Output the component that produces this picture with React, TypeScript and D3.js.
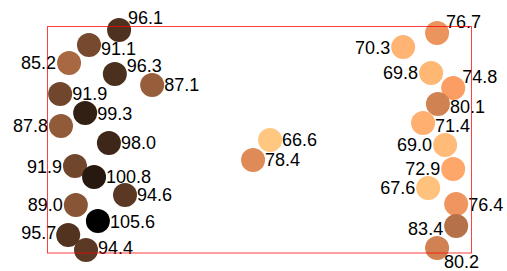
import * as d3 from 'd3';
import { useEffect, useRef } from 'react';

// values shown on the circles
const values = [
  96.1, 91.1, 85.2, 96.3, 87.1, 91.9, 99.3, 87.8, 98.0, 91.9, 100.8, 94.6, 89.0, 105.6, 95.7,
  94.4, 66.6, 78.4, 76.7, 70.3, 69.8, 74.8, 80.1, 71.4, 69.0, 72.9, 67.6, 76.4, 83.4, 80.2,
];
// circle positions, in percent of the frame
const posX = [
  17.0, 9.9, 5.2, 16.0, 24.8, 3.1, 9.0, 3.3, 14.6, 6.6, 11.1, 18.4, 6.8, 12.0, 5.0,
  9.2, 52.6, 48.6, 92.0, 84.0, 90.6, 95.8, 92.2, 88.7, 93.9, 95.8, 89.9, 96.5, 96.5, 92.0,
];
const posY = [
  1.5, 8.2, 16.1, 21.0, 25.8, 29.8, 38.2, 43.9, 51.4, 61.6, 66.4, 74.4, 78.8, 85.9, 92.1,
  98.7, 50.1, 58.9, 2.9, 9.1, 20.5, 27.2, 34.2, 42.6, 52.3, 62.9, 71.3, 78.4, 88.1, 97.8,
];
// which side of the circle each label sits on
const labelSide = [
  'ne', 'ese', 'w', 'nee', 'e', 'e', 'e', 'w', 'e', 'w', 'e', 'e', 'w', 'e', 'wnw',
  'ene', 'e', 'e', 'ne', 'w', 'w', 'ne', 'ese', 'ese', 'w', 'w', 'w', 'e', 'wsw', 'se',
];

const W = 507;
const H = 271;
const R = 12;

// matplotlib "copper" colormap
function copper(t: number) {
  return d3.rgb(Math.min(1, 1.25 * t) * 255, 0.7812 * t * 255, 0.4975 * t * 255).formatHex();
}

const offsets: Record<string, { dx: number; dy: number; anchor: string }> = {
  e: { dx: 12, dy: 0, anchor: 'start' },
  ese: { dx: 12, dy: 3, anchor: 'start' },
  ene: { dx: 12, dy: -3, anchor: 'start' },
  w: { dx: -13, dy: 0, anchor: 'end' },
  wnw: { dx: -12, dy: -3, anchor: 'end' },
  wsw: { dx: -13, dy: 2, anchor: 'end' },
  ne: { dx: 9, dy: -12, anchor: 'start' },
  nee: { dx: 12, dy: -9, anchor: 'start' },
  se: { dx: 7, dy: 14, anchor: 'start' },
};

export default function App() {
  const svgRef = useRef<SVGSVGElement>(null);

  useEffect(() => {
    const svgEl = svgRef.current;
    if (!svgEl) return;

    const items = values.map((v, i) => ({
      value: v,
      x: posX[i],
      y: posY[i],
      side: labelSide[i],
    }));

    const margin = { top: 26.5, right: 36, bottom: 18, left: 47 };
    const x = d3.scaleLinear().domain([0, 100]).range([margin.left, W - margin.right]);
    const y = d3.scaleLinear().domain([0, 100]).range([margin.top, H - margin.bottom]);
    const color = d3
      .scaleLinear<number>()
      .domain([d3.max(values)!, d3.min(values)!])
      .range([0, 1]);

    const svg = d3.select(svgEl);
    svg.selectAll('*').remove();

    svg
      .append('g')
      .selectAll('circle')
      .data(items)
      .join('circle')
      .attr('cx', (d) => x(d.x))
      .attr('cy', (d) => y(d.y))
      .attr('r', R)
      .attr('fill', (d) => copper(color(d.value)));

    svg
      .append('g')
      .selectAll('text')
      .data(items)
      .join('text')
      .attr('x', (d) => x(d.x) + offsets[d.side].dx)
      .attr('y', (d) => y(d.y) + offsets[d.side].dy)
      .attr('dy', '0.36em')
      .attr('text-anchor', (d) => offsets[d.side].anchor)
      .attr('font-family', 'Liberation Sans, Arial, sans-serif')
      .attr('font-size', 18)
      .attr('fill', '#000')
      .text((d) => d.value.toFixed(1));

    svg
      .append('rect')
      .attr('x', x(0) + 0.5)
      .attr('y', y(0))
      .attr('width', x(100) - x(0))
      .attr('height', y(100) - y(0))
      .attr('fill', 'none')
      .attr('stroke', 'red')
      .attr('stroke-opacity', 0.75)
      .attr('stroke-width', 1);
  }, []);

  return (
    <svg
      ref={svgRef}
      width={W}
      height={H}
      style={{ position: 'absolute', left: 0, top: 0, background: '#fff' }}
    />
  );
}
